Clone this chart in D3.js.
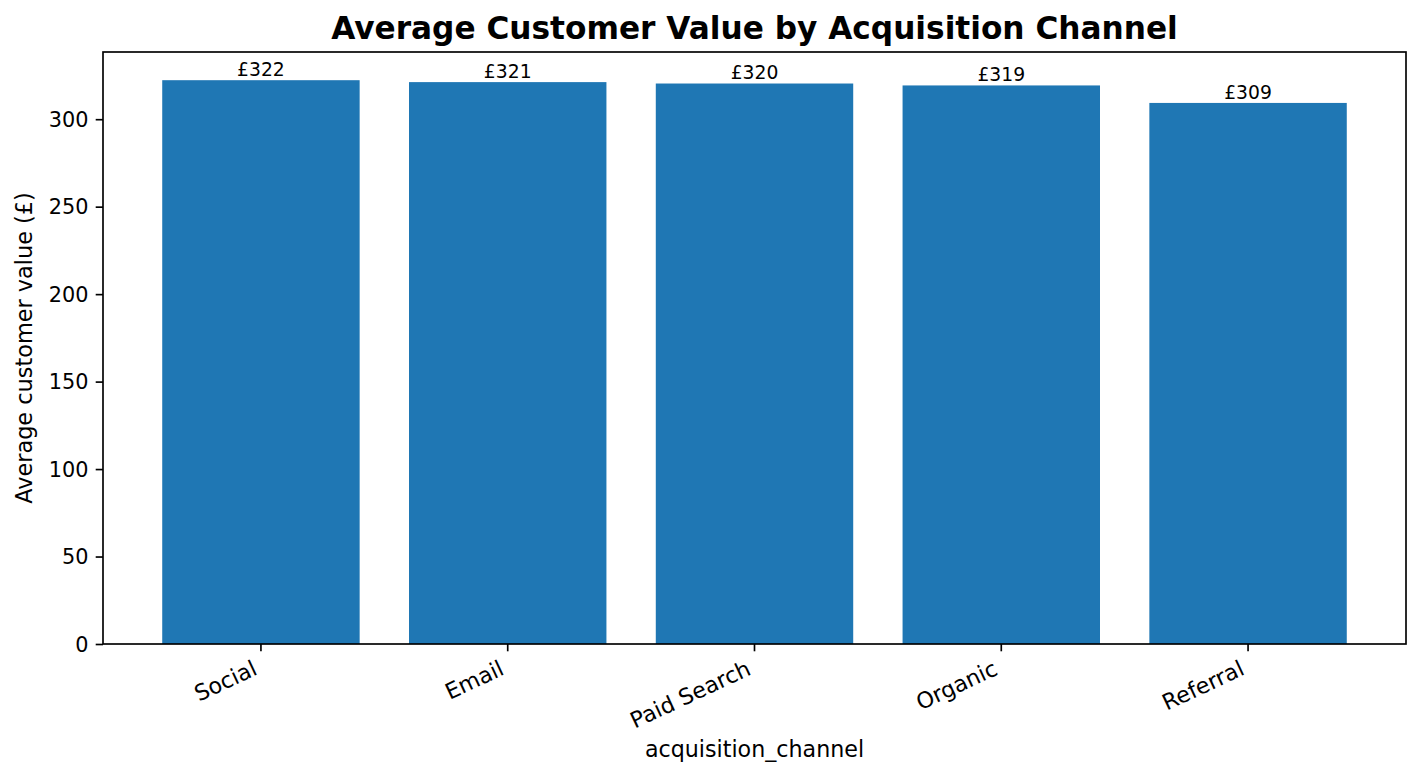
<!DOCTYPE html>
<html lang="en">
<head>
    <meta charset="UTF-8">
    <title>Average Customer Value by Acquisition Channel</title>
    <script src="https://d3js.org/d3.v7.min.js"></script>
    <style>
        body {
            margin: 0;
            font-family: "DejaVu Sans", sans-serif;
            background: white;
        }
        .axis text {
            font-family: "DejaVu Sans", sans-serif;
            font-size: 20.8px;
            fill: black;
        }
        .axis path, .axis line {
            stroke: black;
            stroke-width: 1.67;
        }
    </style>
</head>
<body>
    <div id="chart"></div>
    <script>
        // chart data
        const channels = ["Social", "Email", "Paid Search", "Organic", "Referral"];
        const avgValues = [322.3, 321.2, 320.4, 319.3, 309.3];
        const yTicks = [0, 50, 100, 150, 200, 250, 300];

        const width = 1422, height = 779;
        const margin = {left: 103, right: 16, top: 52, bottom: 135};
        const plotW = width - margin.left - margin.right;
        const plotH = height - margin.top - margin.bottom;

        const svg = d3.select("#chart").append("svg")
            .attr("width", width)
            .attr("height", height);

        const g = svg.append("g")
            .attr("transform", "translate(" + margin.left + "," + margin.top + ")");

        // same spacing as matplotlib: bar width 0.8, 5% margins
        const x = d3.scaleBand()
            .domain(channels)
            .range([0, plotW])
            .paddingInner(0.2)
            .paddingOuter(0.24);

        const y = d3.scaleLinear()
            .domain([0, d3.max(avgValues) * 1.05])
            .range([plotH, 0]);

        // bars
        g.selectAll("rect.bar")
            .data(channels)
            .enter().append("rect")
            .attr("class", "bar")
            .attr("x", d => x(d))
            .attr("width", x.bandwidth())
            .attr("y", (d, i) => y(avgValues[i]))
            .attr("height", (d, i) => plotH - y(avgValues[i]))
            .attr("fill", "#1f77b4");

        // value labels on top
        g.selectAll("text.barlabel")
            .data(channels)
            .enter().append("text")
            .attr("class", "barlabel")
            .attr("x", d => x(d) + x.bandwidth() / 2)
            .attr("y", (d, i) => y(avgValues[i]) - 4.4)
            .attr("text-anchor", "middle")
            .attr("font-size", "18.75px")
            .attr("fill", "black")
            .text((d, i) => "£" + Math.round(avgValues[i]));

        // y axis
        const yAxis = g.append("g")
            .attr("class", "axis")
            .call(d3.axisLeft(y).tickValues(yTicks).tickSize(7.3).tickPadding(7.3).tickSizeOuter(0));
        yAxis.select(".domain").remove();
        yAxis.selectAll("text").attr("dy", "0.35em");

        // x axis
        const xAxis = g.append("g")
            .attr("class", "axis")
            .attr("transform", "translate(0," + plotH + ")")
            .call(d3.axisBottom(x).tickSize(7.3).tickSizeOuter(0));
        xAxis.select(".domain").remove();
        xAxis.selectAll(".tick text")
            .attr("text-anchor", "end")
            .style("font-size", "22.2px")
            .attr("x", 0).attr("y", 0).attr("dy", 0)
            .attr("transform", "translate(-2.3,30) rotate(-25)");

        // frame
        g.append("rect")
            .attr("width", plotW)
            .attr("height", plotH)
            .attr("fill", "none")
            .attr("stroke", "black")
            .attr("stroke-width", 1.67);

        // axis titles
        svg.append("text")
            .attr("x", margin.left + plotW / 2)
            .attr("y", 757)
            .attr("text-anchor", "middle")
            .attr("font-size", "22.2px")
            .text("acquisition_channel");

        svg.append("text")
            .attr("transform", "translate(32," + (margin.top + plotH / 2) + ") rotate(-90)")
            .attr("text-anchor", "middle")
            .attr("font-size", "22.4px")
            .text("Average customer value (£)");

        svg.append("text")
            .attr("x", margin.left + plotW / 2)
            .attr("y", 39)
            .attr("text-anchor", "middle")
            .attr("font-size", "31.2px")
            .attr("font-weight", "bold")
            .text("Average Customer Value by Acquisition Channel");
    </script>
</body>
</html>
